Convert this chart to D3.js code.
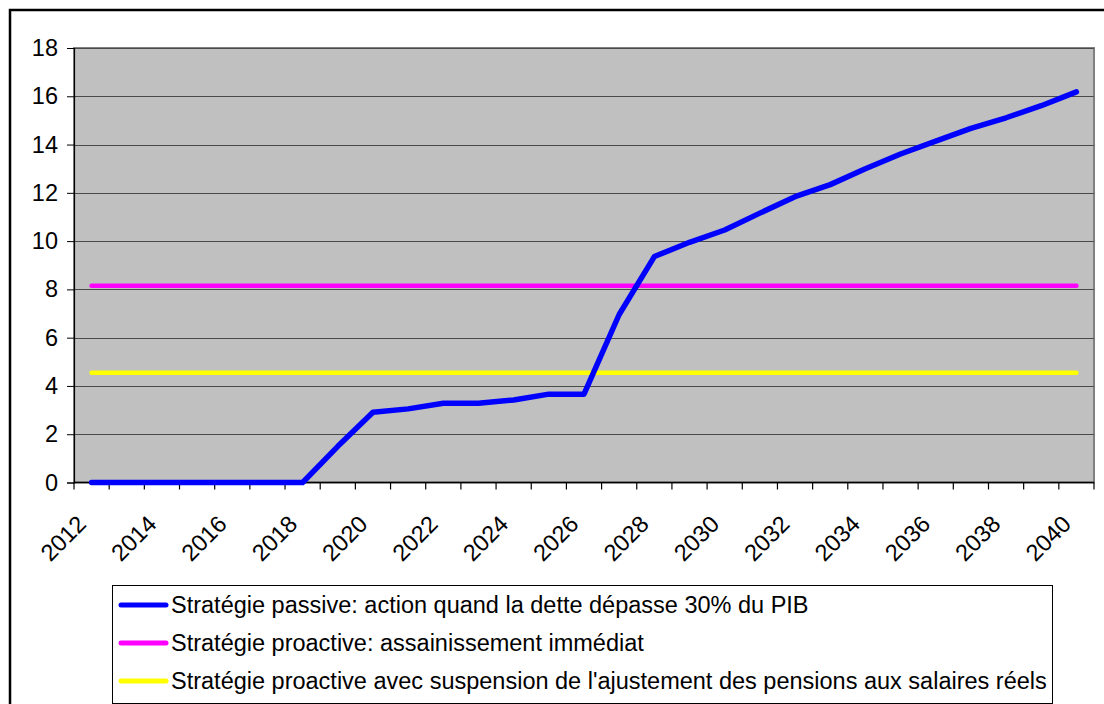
<!DOCTYPE html>
<html>
<head>
<meta charset="utf-8">
<script src="https://cdn.jsdelivr.net/npm/d3@7"></script>
<style>
  html, body { margin: 0; padding: 0; background: #fff; }
  svg { display: block; font-family: "Liberation Sans", Arial, sans-serif; }
</style>
</head>
<body>
<svg id="chart" width="1104" height="704"></svg>
<script>
// Years on the category axis
const years = d3.range(2012, 2041);

// Series values (per year)
const passive = [0, 0, 0, 0, 0, 0, 0, 1.5, 2.91, 3.05, 3.28, 3.28, 3.42, 3.66, 3.66,
  6.96, 9.36, 9.95, 10.46, 11.16, 11.84, 12.34, 13.0, 13.61, 14.14, 14.67, 15.11, 15.61, 16.18];
const proactive = years.map(() => 8.15);
const proactiveSuspension = years.map(() => 4.55);

const seriesNames = [
  "Stratégie passive: action quand la dette dépasse 30% du PIB",
  "Stratégie proactive: assainissement immédiat",
  "Stratégie proactive avec suspension de l'ajustement des pensions aux salaires réels"
];
const seriesColors = ["#0000ff", "#ff00ff", "#ffff00"];
const yTicks = [0, 2, 4, 6, 8, 10, 12, 14, 16, 18];

const FONT = 23.5;
const svg = d3.select("#chart");

// Outer chart frame
svg.append("rect")
  .attr("x", 10).attr("y", 10).attr("width", 1110).attr("height", 710)
  .attr("fill", "#fff").attr("stroke", "#000").attr("stroke-width", 2.5);

const plot = { left: 74, top: 48, right: 1094, bottom: 482.5 };

const x = d3.scaleBand().domain(years).range([plot.left, plot.right]).padding(0);
const y = d3.scaleLinear().domain([0, 18]).range([plot.bottom, plot.top]);

// Plot area background
svg.append("rect")
  .attr("x", plot.left).attr("y", plot.top)
  .attr("width", plot.right - plot.left).attr("height", plot.bottom - plot.top)
  .attr("fill", "#c0c0c0").attr("stroke", "#808080").attr("stroke-width", 2);

// Horizontal gridlines
svg.append("g").selectAll("line").data(yTicks.filter(d => d > 0)).join("line")
  .attr("x1", plot.left).attr("x2", plot.right)
  .attr("y1", d => Math.round(y(d)) + 0.5).attr("y2", d => Math.round(y(d)) + 0.5)
  .attr("stroke", "#4a4a4a").attr("stroke-width", 1.2);

// Y axis
const yAxis = d3.axisLeft(y).tickValues(yTicks).tickSize(7).tickPadding(9);
const gy = svg.append("g").attr("transform", `translate(${plot.left},0)`).call(yAxis);
gy.select(".domain").attr("stroke", "#000").attr("stroke-width", 1.2);
gy.selectAll(".tick line").attr("stroke", "#000");
gy.selectAll(".tick text").attr("font-size", FONT).attr("fill", "#000")
  .attr("font-family", "Liberation Sans, Arial, sans-serif");

// X axis: ticks between categories, labels on every second year
const boundaries = years.map(yr => x(yr)).concat([plot.right]);
const gx = svg.append("g");
gx.append("line")
  .attr("x1", plot.left).attr("x2", plot.right)
  .attr("y1", plot.bottom).attr("y2", plot.bottom)
  .attr("stroke", "#000").attr("stroke-width", 1.5);
gx.selectAll("line.tick").data(boundaries).join("line").attr("class", "tick")
  .attr("x1", d => d).attr("x2", d => d)
  .attr("y1", plot.bottom).attr("y2", plot.bottom + 7)
  .attr("stroke", "#000").attr("stroke-width", 1.2);
gx.selectAll("text").data(years.filter(yr => (yr - 2012) % 2 === 0)).join("text")
  .attr("transform", d => `translate(${x(d) + x.bandwidth() / 2 - 4},${plot.bottom + 43}) rotate(-45)`)
  .attr("text-anchor", "end")
  .attr("font-size", FONT)
  .text(d => d);

// Lines
const line = d3.line()
  .x((d, i) => x(years[i]) + x.bandwidth() / 2)
  .y(d => y(d));

const allSeries = [passive, proactive, proactiveSuspension];
// yellow first, then magenta, then blue on top
[2, 1, 0].forEach(k => {
  svg.append("path")
    .datum(allSeries[k])
    .attr("d", line)
    .attr("fill", "none")
    .attr("stroke", seriesColors[k])
    .attr("stroke-width", k === 0 ? 5.5 : 4.5)
    .attr("stroke-linejoin", "round")
    .attr("stroke-linecap", "round");
});

// Legend
const legend = svg.append("g");
legend.append("rect")
  .attr("x", 112.5).attr("y", 585.5).attr("width", 940).attr("height", 118)
  .attr("fill", "#fff").attr("stroke", "#000").attr("stroke-width", 1);
const rowY = [605, 643, 681];
seriesNames.forEach((name, i) => {
  legend.append("line")
    .attr("x1", 121).attr("x2", 166).attr("y1", rowY[i]).attr("y2", rowY[i])
    .attr("stroke", seriesColors[i]).attr("stroke-width", 5).attr("stroke-linecap", "round");
  legend.append("text")
    .attr("x", 171).attr("y", rowY[i]).attr("dy", "0.36em")
    .attr("font-size", FONT)
    .text(name);
});
</script>
</body>
</html>
